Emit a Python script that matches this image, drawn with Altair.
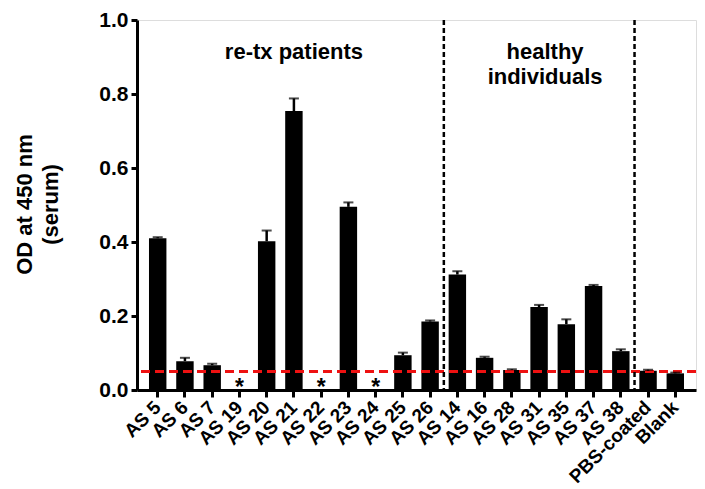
import altair as alt
import pandas as pd

samples = ["AS 5", "AS 6", "AS 7", "AS 19", "AS 20", "AS 21", "AS 22", "AS 23", "AS 24",
           "AS 25", "AS 26", "AS 14", "AS 16", "AS 28", "AS 31", "AS 35", "AS 37", "AS 38",
           "PBS-coated", "Blank"]
od = [0.410, 0.078, 0.067, 0.0, 0.402, 0.754, 0.0, 0.495, 0.0, 0.094, 0.185,
      0.312, 0.087, 0.054, 0.224, 0.178, 0.281, 0.105, 0.052, 0.045]
sem = [0.003, 0.009, 0.004, 0.0, 0.029, 0.034, 0.0, 0.012, 0.0, 0.007, 0.003,
       0.009, 0.003, 0.002, 0.006, 0.013, 0.003, 0.005, 0.003, 0.002]
undetected = ["AS 19", "AS 22", "AS 24"]
cutoff = [0.05]
separators_after = ["AS 26", "AS 38"]
group_text = [["re-tx patients"], ["healthy", "individuals"]]
group_anchor = ["AS 21", "AS 31"]
group_y = [0.913, 0.913]

FONT = "Liberation Sans"

df = pd.DataFrame({"sample": samples, "od": od, "sem": sem})
df["top"] = df["od"] + df["sem"]
err_df = df[df["od"] > 0]
star_df = pd.DataFrame({"sample": undetected, "y": [0.0] * len(undetected), "t": ["*"] * len(undetected)})
cut_df = pd.DataFrame({"y": cutoff})
sep_df = pd.DataFrame({"sample": separators_after})
g1 = pd.DataFrame({"sample": [group_anchor[0]], "y": [group_y[0]], "t": [group_text[0]]})
g2 = pd.DataFrame({"sample": [group_anchor[1]], "y": [group_y[1]], "t": [group_text[1]]})

xscale = alt.Scale(domain=samples, paddingInner=0.36, paddingOuter=0.44)
yscale = alt.Scale(domain=[0, 1])

x_enc = alt.X("sample:N", scale=xscale, sort=samples,
              axis=alt.Axis(title=None, labelAngle=-45, labelAlign="right", labelBaseline="middle",
                            labelFontSize=19, labelFontWeight="bold", labelFont=FONT,
                            labelColor="black", labelPadding=7,
                            domainWidth=3, domainColor="black", tickWidth=3, tickSize=7,
                            tickColor="black", labelOverlap=False))
y_enc = alt.Y("od:Q", scale=yscale,
              axis=alt.Axis(title=["OD at 450 nm", "(serum)"], values=[0, 0.2, 0.4, 0.6, 0.8, 1.0],
                            format=".1f", labelFontSize=21, labelFontWeight="bold", labelFont=FONT,
                            labelColor="black", labelPadding=3,
                            domainWidth=3, domainColor="black", tickWidth=3, tickSize=6,
                            tickColor="black", grid=False,
                            titleFontSize=22, titleFont=FONT, titleFontWeight="bold",
                            titleColor="black", titleAngle=-90, titleX=-113, titleY=184,
                            titleAlign="center", titleBaseline="middle", titleLineHeight=26))

bars = alt.Chart(df).mark_bar(color="black").encode(x=x_enc, y=y_enc)

err = alt.Chart(err_df).mark_rule(color="black", strokeWidth=2.5).encode(
    x=alt.X("sample:N", scale=xscale, sort=samples),
    y=alt.Y("od:Q", scale=yscale),
    y2="top:Q")
cap = alt.Chart(err_df).mark_tick(color="black", thickness=2, size=10).encode(
    x=alt.X("sample:N", scale=xscale, sort=samples),
    y=alt.Y("top:Q", scale=yscale))

stars = alt.Chart(star_df).mark_text(font=FONT, fontWeight="bold", fontSize=23, baseline="alphabetic",
                                     dy=5, color="black").encode(
    x=alt.X("sample:N", scale=xscale, sort=samples),
    y=alt.Y("y:Q", scale=yscale),
    text="t:N")

cut = alt.Chart(cut_df).mark_rule(color="#ee1111", strokeWidth=3, strokeDash=[9, 5]).encode(
    y=alt.Y("y:Q", scale=yscale))

seps = alt.Chart(sep_df).mark_rule(color="black", strokeWidth=2.5, strokeDash=[5, 3], xOffset=5).encode(
    x=alt.X("sample:N", scale=xscale, sort=samples, bandPosition=1))

lab1 = alt.Chart(g1).mark_text(font=FONT, fontWeight="bold", fontSize=22, baseline="middle",
                               align="center", color="black").encode(
    x=alt.X("sample:N", scale=xscale, sort=samples),
    y=alt.Y("y:Q", scale=yscale),
    text="t")
lab2 = alt.Chart(g2).mark_text(font=FONT, fontWeight="bold", fontSize=22, baseline="middle",
                               align="center", color="black", lineHeight=25, dx=6).encode(
    x=alt.X("sample:N", scale=xscale, sort=samples),
    y=alt.Y("y:Q", scale=yscale),
    text="t")

chart = alt.layer(bars, cut, err, cap, stars, seps, lab1, lab2).properties(
    width=559, height=370,
    autosize=alt.AutoSizeParams(type="none"),
    padding={"left": 129, "top": 12, "right": 1, "bottom": 99},
).configure_view(stroke=None).configure(background="white")

chart.save("out.html", embed_options={"renderer": "svg", "actions": False})
